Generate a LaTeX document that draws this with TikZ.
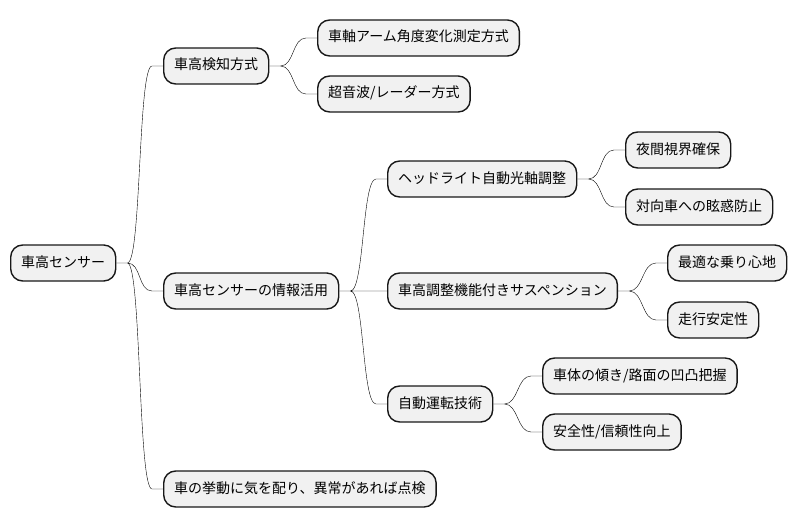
\documentclass[tikz,border=0pt]{standalone}
\usepackage{fontspec}
\setmainfont{Noto Sans CJK JP}
\usepackage{tikz}
\definecolor{boxfill}{HTML}{F1F1F1}
\definecolor{boxline}{HTML}{181818}

\begin{document}
\begin{tikzpicture}[x=1pt,y=-1pt,
  every node/.style={draw=boxline,fill=boxfill,line width=1.4pt,rounded corners=12pt,
    anchor=west,minimum height=36pt,inner xsep=10.5pt,
    text height=10pt,text depth=2pt,font=\fontsize{14pt}{16pt}\selectfont},
  link/.style={line width=1pt,draw=boxline,
    to path={-- ++(11pt,0) .. controls +(14pt,0) and +(-14pt,0) .. ([xshift=-11pt]\tikztotarget) -- (\tikztotarget)}}]
\useasboundingbox (0,0) rectangle (796,527);
\node (r)   at (10,263)  {車高センサー};
\node (det) at (163,66)  {車高検知方式};
\node (arm) at (317,38)  {車軸アーム角度変化測定方式};
\node (us)  at (317,94)  {超音波/レーダー方式};
\node (use) at (163,291) {車高センサーの情報活用};
\node (hl)  at (387,179) {ヘッドライト自動光軸調整};
\node (hl1) at (625,150) {夜間視界確保};
\node (hl2) at (625,207) {対向車への眩惑防止};
\node (sus) at (387,291) {車高調整機能付きサスペンション};
\node (su1) at (667,263) {最適な乗り心地};
\node (su2) at (667,320) {走行安定性};
\node (ad)  at (387,404) {自動運転技術};
\node (ad1) at (542,376) {車体の傾き/路面の凹凸把握};
\node (ad2) at (542,432) {安全性/信頼性向上};
\node (chk) at (163,489) {車の挙動に気を配り、異常があれば点検};
% root -> level 1
\draw (r.east) to[link] (det.west)  (r.east) to[link] (use.west)  (r.east) to[link] (chk.west);
\draw (det.east) to[link] (arm.west)  (det.east) to[link] (us.west);
\draw (use.east) to[link] (hl.west)  (use.east) to[link] (sus.west)  (use.east) to[link] (ad.west);
% level 2 -> leaves
\draw (hl.east) to[link] (hl1.west)  (hl.east) to[link] (hl2.west);
\draw (sus.east) to[link] (su1.west)  (sus.east) to[link] (su2.west);
\draw (ad.east) to[link] (ad1.west)  (ad.east) to[link] (ad2.west);
\end{tikzpicture}
\end{document}
